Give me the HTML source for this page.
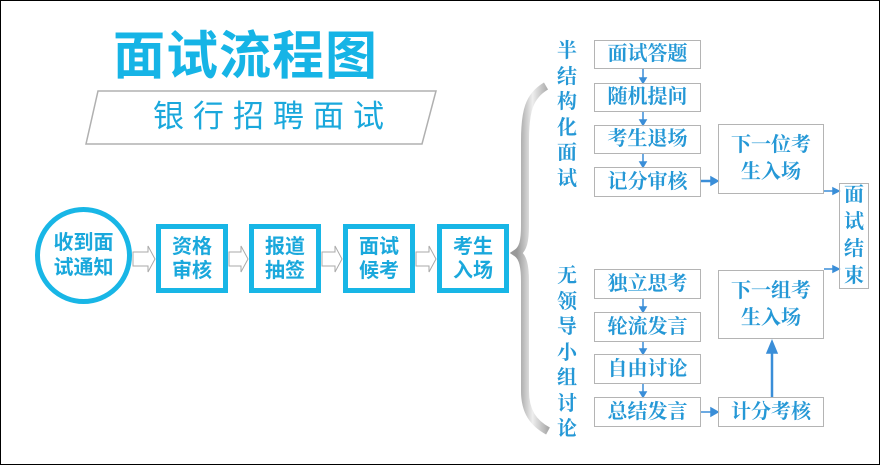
<!DOCTYPE html>
<html><head><meta charset="utf-8"><style>
html,body{margin:0;padding:0;background:#fff}
#c{position:relative;width:878px;height:463px;border:1px solid #000;overflow:hidden;background:#fff;font-family:"Liberation Sans","Noto Sans CJK SC",sans-serif}
.a{position:absolute}
.bx{position:absolute;border:5px solid #18b6e6;box-sizing:border-box;color:#1aa8dc;font-size:20px;font-weight:bold;line-height:24px;text-align:center;display:flex;align-items:center;justify-content:center;font-family:"Liberation Sans","Noto Sans CJK SC",sans-serif}
.rb{position:absolute;border:1.5px solid #b4b4b4;box-sizing:border-box;color:#2598d6;font-size:20px;font-weight:bold;text-align:center;display:flex;align-items:center;justify-content:center;font-family:"Liberation Serif","Noto Serif CJK SC",serif;line-height:27px}
.v{position:absolute;color:#2598d6;font-size:20px;font-weight:bold;font-family:"Liberation Serif","Noto Serif CJK SC",serif;width:22px;line-height:25.5px;text-align:center}
</style></head><body><div id="c">
<div class="a" style="left:112px;top:26px;font-size:52px;line-height:60px;color:#16b4e6;font-weight:bold;letter-spacing:1px">面试流程图</div>
<svg class="a" style="left:0;top:0" width="878" height="463">
<polygon points="97,90 435,90 421,143 85,143" fill="#fff" stroke="#b0b0b0" stroke-width="1.5"/>
<defs><linearGradient id="g" x1="0" x2="1"><stop offset="0" stop-color="#999"/><stop offset="0.5" stop-color="#eee"/><stop offset="1" stop-color="#aaa"/></linearGradient></defs>
<path d="M545,85 C528,95 524,110 524,140 L524,225 C524,240 522,248 516,252 C522,256 524,265 524,280 L524,390 C524,410 532,422 547,430" fill="none" stroke="url(#g)" stroke-width="8"/>
<g fill="#fff" stroke="#aaa" stroke-width="1">
<polygon points="132,251 147,251 147,245 154,258 147,271 147,265 132,265"/>
<polygon points="228,251 240,251 240,245 247,258 240,271 240,265 228,265"/>
<polygon points="321,251 334,251 334,245 341,258 334,271 334,265 321,265"/>
<polygon points="415,251 428,251 428,245 435,258 428,271 428,265 415,265"/>
</g>
<g stroke="#3a8ed8" stroke-width="1.5" fill="#3a8ed8">
<line x1="642" y1="68" x2="642" y2="79"/><polygon points="639,77 645,77 642,82"/>
<line x1="642" y1="111" x2="642" y2="121"/><polygon points="639,119 645,119 642,124"/>
<line x1="642" y1="153" x2="642" y2="163"/><polygon points="639,161 645,161 642,166"/>
<line x1="700" y1="180" x2="712" y2="180" stroke-width="2.5"/><polygon points="710,176 717,180 710,184"/>
<line x1="823" y1="190" x2="833" y2="190"/><polygon points="832,187 838,190 832,193"/>
<line x1="823" y1="268" x2="833" y2="268"/><polygon points="832,265 838,268 832,271"/>
<line x1="642" y1="298" x2="642" y2="308"/><polygon points="639,306 645,306 642,311"/>
<line x1="642" y1="341" x2="642" y2="350"/><polygon points="639,348 645,348 642,353"/>
<line x1="642" y1="383" x2="642" y2="393"/><polygon points="639,391 645,391 642,396"/>
<line x1="700" y1="411" x2="712" y2="411"/><polygon points="710,407 717,411 710,415"/>
<line x1="771" y1="396" x2="771" y2="350" stroke-width="2.5"/><polygon points="766,352 776,352 771,340"/>
</g>
</svg>
<div class="a" style="left:152px;top:97px;font-size:31px;line-height:38px;color:#1aa8dc;letter-spacing:9px">银行招聘面试</div>
<div class="a" style="left:34px;top:206px;width:97px;height:97px;border:5px solid #18b6e6;border-radius:50%;box-sizing:border-box;display:flex;align-items:center;justify-content:center;text-align:center;color:#1aa8dc;font-size:20px;font-weight:bold;line-height:25px">收到面<br>试通知</div>
<div class="bx" style="left:155px;top:223px;width:72px;height:69px">资格<br>审核</div>
<div class="bx" style="left:248px;top:223px;width:72px;height:69px">报道<br>抽签</div>
<div class="bx" style="left:342px;top:223px;width:72px;height:69px">面试<br>候考</div>
<div class="bx" style="left:436px;top:223px;width:72px;height:69px">考生<br>入场</div>
<div class="v" style="left:555px;top:38px">半<br>结<br>构<br>化<br>面<br>试</div>
<div class="v" style="left:555px;top:263px">无<br>领<br>导<br>小<br>组<br>讨<br>论</div>
<div class="rb" style="left:593px;top:39px;width:107px;height:29px">面试答题</div>
<div class="rb" style="left:593px;top:82px;width:107px;height:29px">随机提问</div>
<div class="rb" style="left:593px;top:124px;width:107px;height:29px">考生退场</div>
<div class="rb" style="left:593px;top:166px;width:107px;height:30px">记分审核</div>
<div class="rb" style="left:717px;top:123px;width:106px;height:70px">下一位考<br>生入场</div>
<div class="rb" style="left:838px;top:182px;width:30px;height:106px">面<br>试<br>结<br>束</div>
<div class="rb" style="left:593px;top:268px;width:107px;height:30px">独立思考</div>
<div class="rb" style="left:593px;top:311px;width:107px;height:30px">轮流发言</div>
<div class="rb" style="left:593px;top:353px;width:107px;height:30px">自由讨论</div>
<div class="rb" style="left:593px;top:396px;width:107px;height:30px">总结发言</div>
<div class="rb" style="left:717px;top:269px;width:106px;height:69px">下一组考<br>生入场</div>
<div class="rb" style="left:717px;top:396px;width:106px;height:30px">计分考核</div>
</div></body></html>
